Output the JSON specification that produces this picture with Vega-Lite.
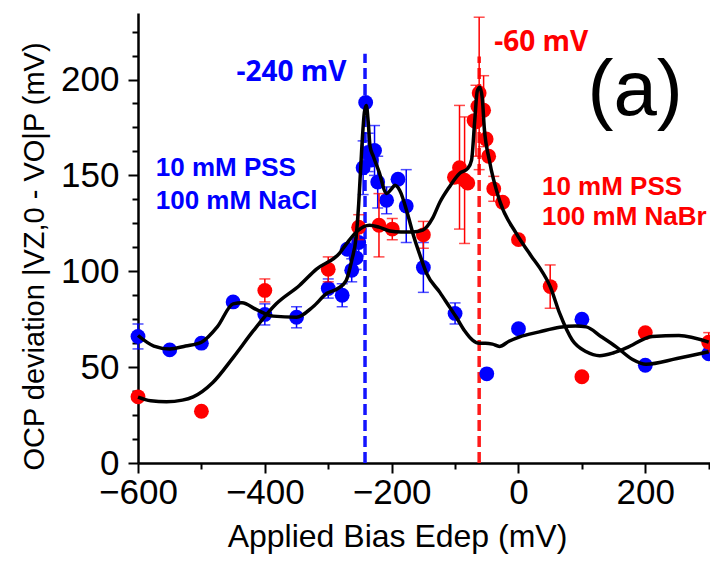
{
  "$schema": "https://vega.github.io/schema/vega-lite/v6.json",
  "autosize": "none",
  "width": 572,
  "height": 450,
  "padding": {"left": 138, "top": 13, "right": 0, "bottom": 104},
  "background": "white",
  "config": {"view": {"stroke": null}},
  "datasets": {
    "blue": [
      {"E": -600, "V": 66, "lo": 59.5, "hi": 72.5},
      {"E": -550, "V": 59},
      {"E": -500, "V": 62.5},
      {"E": -450, "V": 84},
      {"E": -400, "V": 77.5, "lo": 72, "hi": 83},
      {"E": -350, "V": 76, "lo": 70.5, "hi": 81.5},
      {"E": -300, "V": 91, "lo": 86, "hi": 96},
      {"E": -278, "V": 87.5, "lo": 81.5, "hi": 93.5},
      {"E": -270, "V": 111.5},
      {"E": -263, "V": 100.5, "lo": 94.5, "hi": 106.5},
      {"E": -256, "V": 107, "lo": 101, "hi": 113},
      {"E": -252, "V": 115, "lo": 108, "hi": 122},
      {"E": -245, "V": 154, "lo": 140, "hi": 168},
      {"E": -241, "V": 188},
      {"E": -237, "V": 162, "lo": 152, "hi": 172},
      {"E": -232, "V": 158},
      {"E": -227, "V": 163, "lo": 150, "hi": 176},
      {"E": -222, "V": 146.5, "lo": 133, "hi": 160},
      {"E": -208, "V": 137, "lo": 130, "hi": 144},
      {"E": -190, "V": 148},
      {"E": -177, "V": 134, "lo": 115, "hi": 153},
      {"E": -150, "V": 102, "lo": 89, "hi": 115},
      {"E": -100, "V": 78, "lo": 72.5, "hi": 83.5},
      {"E": -50, "V": 46.5},
      {"E": 0, "V": 70},
      {"E": 100, "V": 75},
      {"E": 200, "V": 51},
      {"E": 300, "V": 57}
    ],
    "red": [
      {"E": -600, "V": 34.5},
      {"E": -500, "V": 27},
      {"E": -400, "V": 90, "lo": 84, "hi": 96},
      {"E": -300, "V": 101, "lo": 94.5, "hi": 107.5},
      {"E": -252, "V": 123, "lo": 116.5, "hi": 129.5},
      {"E": -220, "V": 124, "lo": 107.5, "hi": 140.5},
      {"E": -199, "V": 122, "lo": 116.5, "hi": 127.5},
      {"E": -150, "V": 119, "lo": 112, "hi": 126},
      {"E": -101, "V": 149},
      {"E": -93, "V": 154, "lo": 122, "hi": 186.5},
      {"E": -85, "V": 147.5, "lo": 114.5, "hi": 180.5},
      {"E": -80, "V": 146},
      {"E": -70, "V": 178.6},
      {"E": -67, "V": 178, "lo": 160, "hi": 197},
      {"E": -64, "V": 186},
      {"E": -62, "V": 193, "lo": 153, "hi": 232.5},
      {"E": -55, "V": 184, "lo": 165, "hi": 202},
      {"E": -51, "V": 169},
      {"E": -47, "V": 160},
      {"E": -39, "V": 143, "lo": 136.5, "hi": 149.5},
      {"E": -25, "V": 136},
      {"E": 0, "V": 116.5},
      {"E": 50, "V": 92, "lo": 80.7, "hi": 103.3},
      {"E": 100, "V": 45},
      {"E": 200, "V": 68},
      {"E": 300, "V": 63, "lo": 58, "hi": 68}
    ],
    "bluecurve": [
      {"E": -600, "V": 66.5}, {"E": -575, "V": 61}, {"E": -550, "V": 59.5}, {"E": -525, "V": 61},
      {"E": -500, "V": 63}, {"E": -475, "V": 71}, {"E": -450, "V": 83}, {"E": -436, "V": 83.6},
      {"E": -413, "V": 80}, {"E": -387, "V": 76.6}, {"E": -350, "V": 76}, {"E": -324, "V": 81.5},
      {"E": -302, "V": 88.5}, {"E": -285, "V": 91}, {"E": -272, "V": 95}, {"E": -263, "V": 105.7},
      {"E": -256, "V": 118}, {"E": -252, "V": 135}, {"E": -247, "V": 165}, {"E": -243, "V": 183},
      {"E": -240, "V": 186.5}, {"E": -237, "V": 178}, {"E": -234, "V": 165}, {"E": -229, "V": 160},
      {"E": -220, "V": 152}, {"E": -208, "V": 140.6}, {"E": -200, "V": 143}, {"E": -195, "V": 144.8},
      {"E": -187, "V": 142}, {"E": -175, "V": 130}, {"E": -165, "V": 118}, {"E": -156, "V": 109},
      {"E": -145, "V": 99}, {"E": -124, "V": 89}, {"E": -110, "V": 82}, {"E": -98, "V": 76},
      {"E": -85, "V": 69}, {"E": -72, "V": 64}, {"E": -62, "V": 62.5}, {"E": -52, "V": 62.5},
      {"E": -41, "V": 62}, {"E": -30, "V": 60.8}, {"E": -15, "V": 63.5}, {"E": 2, "V": 65.8},
      {"E": 33, "V": 68.4}, {"E": 65, "V": 70.8}, {"E": 90, "V": 71.5}, {"E": 107, "V": 71},
      {"E": 130, "V": 66}, {"E": 154, "V": 60.6}, {"E": 180, "V": 54}, {"E": 201, "V": 51.5},
      {"E": 250, "V": 54.5}, {"E": 300, "V": 58}
    ],
    "redcurve": [
      {"E": -600, "V": 34.4}, {"E": -580, "V": 32.5}, {"E": -555, "V": 32}, {"E": -530, "V": 32.8},
      {"E": -513, "V": 34.5}, {"E": -482, "V": 42}, {"E": -450, "V": 55}, {"E": -418, "V": 69},
      {"E": -382, "V": 83}, {"E": -345, "V": 92.7}, {"E": -319, "V": 101}, {"E": -282, "V": 109.5},
      {"E": -271, "V": 114.4}, {"E": -254, "V": 121}, {"E": -235, "V": 124}, {"E": -220, "V": 123},
      {"E": -203, "V": 121}, {"E": -185, "V": 120.5}, {"E": -167, "V": 120.5}, {"E": -151, "V": 121.5},
      {"E": -135, "V": 128}, {"E": -124, "V": 136}, {"E": -109, "V": 144}, {"E": -93, "V": 151},
      {"E": -80, "V": 153.6}, {"E": -74, "V": 158}, {"E": -69, "V": 178.6}, {"E": -65, "V": 194},
      {"E": -61, "V": 196}, {"E": -57, "V": 190}, {"E": -54, "V": 175}, {"E": -46, "V": 158},
      {"E": -30, "V": 137}, {"E": -4, "V": 120}, {"E": 20, "V": 108}, {"E": 33, "V": 102},
      {"E": 50, "V": 92}, {"E": 65, "V": 78}, {"E": 85, "V": 64}, {"E": 107, "V": 58},
      {"E": 128, "V": 56}, {"E": 150, "V": 57.5}, {"E": 170, "V": 60}, {"E": 211, "V": 66},
      {"E": 253, "V": 66.5}, {"E": 300, "V": 63}
    ],
    "bluevline": [{"E": -242, "V": 0, "V2": 213.5}],
    "redvline": [{"E": -62, "V": 0, "V2": 212}],
    "boldlabels": [
      {"E": -358, "V": 203.5, "t": "-240 mV", "s": "NaCl"},
      {"E": 36, "V": 219, "t": "-60 mV", "s": "NaBr"}
    ],
    "saltlabels": [
      {"E": -572, "V": 154, "t": "10 mM PSS", "s": "NaCl"},
      {"E": -572, "V": 136.5, "t": "100 mM NaCl", "s": "NaCl"},
      {"E": 37, "V": 144, "t": "10 mM PSS", "s": "NaBr"},
      {"E": 37, "V": 128.5, "t": "100 mM NaBr", "s": "NaBr"}
    ],
    "panel": [{"E": 184, "V": 181.6, "t": "(a)"}]
  },
  "encoding": {
    "x": {"field": "E", "type": "quantitative",
      "scale": {"domain": [-600, 302], "nice": false, "zero": false},
      "axis": {
        "title": "Applied Bias Edep (mV)",
        "values": [-600, -500, -400, -300, -200, -100, 0, 100, 200, 300],
        "labelExpr": "datum.value % 200 === 0 ? datum.label : ''",
        "labelFont": "Liberation Sans", "labelFontSize": 35, "labelColor": "black",
        "labelPadding": 2, "labelFlush": false, "labelOverlap": false,
        "tickSize": {"condition": {"test": "datum.value % 200 === 0", "value": 10}, "value": 6},
        "tickColor": "black", "tickWidth": 2, "domainColor": "black", "domainWidth": 2.5,
        "grid": false,
        "titleFont": "Liberation Sans", "titleFontSize": 32, "titleFontWeight": "normal", "titleColor": "black",
        "titleX": 259, "titleY": 83, "titleBaseline": "alphabetic", "titleAlign": "center"
      }
    },
    "y": {"field": "V", "type": "quantitative",
      "scale": {"domain": [0, 234.7], "nice": false, "zero": false},
      "axis": {
        "title": "OCP deviation |VZ,0 - VO|P (mV)",
        "values": [0, 12.5, 25, 37.5, 50, 62.5, 75, 87.5, 100, 112.5, 125, 137.5, 150, 162.5, 175, 187.5, 200, 212.5, 225],
        "labelExpr": "datum.value % 50 === 0 ? datum.label : ''",
        "labelFont": "Liberation Sans", "labelFontSize": 35, "labelColor": "black",
        "labelPadding": 9, "labelFlush": false, "labelOverlap": false, "labelBaseline": "middle",
        "tickSize": {"condition": {"test": "datum.value % 50 === 0", "value": 10}, "value": 6},
        "tickColor": "black", "tickWidth": 2, "domainColor": "black", "domainWidth": 2.5,
        "grid": false,
        "titleFont": "Liberation Sans", "titleFontSize": 29, "titleFontWeight": "normal", "titleColor": "black",
        "titleAngle": -90, "titleX": -104, "titleY": 243, "titleBaseline": "middle", "titleAlign": "center"
      }
    }
  },
  "layer": [
    {"data": {"name": "bluevline"}, "mark": {"type": "rule", "color": "#1414ff", "strokeWidth": 3.5, "strokeDash": [11, 5]},
      "encoding": {"y2": {"field": "V2"}}},
    {"data": {"name": "redvline"}, "mark": {"type": "rule", "color": "#ff1a1a", "strokeWidth": 3.5, "strokeDash": [11, 5]},
      "encoding": {"y2": {"field": "V2"}}},
    {"data": {"name": "blue"}, "transform": [{"filter": "isValid(datum.lo)"}],
      "mark": {"type": "errorbar", "color": "#0000ff", "ticks": {"size": 11}, "thickness": 1.5},
      "encoding": {"y": {"field": "lo", "type": "quantitative"}, "y2": {"field": "hi"}}},
    {"data": {"name": "blue"}, "mark": {"type": "circle", "color": "#0000ff", "opacity": 1, "size": 220}},
    {"data": {"name": "red"}, "transform": [{"filter": "isValid(datum.lo)"}],
      "mark": {"type": "errorbar", "color": "#ff0000", "ticks": {"size": 11}, "thickness": 1.5},
      "encoding": {"y": {"field": "lo", "type": "quantitative"}, "y2": {"field": "hi"}}},
    {"data": {"name": "red"}, "mark": {"type": "circle", "color": "#ff0000", "opacity": 1, "size": 220}},
    {"data": {"name": "bluecurve"}, "mark": {"type": "line", "color": "black", "strokeWidth": 3.5, "interpolate": "monotone"}, "encoding": {}},
    {"data": {"name": "redcurve"}, "mark": {"type": "line", "color": "black", "strokeWidth": 3.5, "interpolate": "monotone"}, "encoding": {}},
    {"data": {"name": "boldlabels"},
      "mark": {"type": "text", "font": "Open Sans", "fontWeight": "bold", "fontSize": 28, "align": "center", "baseline": "middle"},
      "encoding": {"text": {"field": "t"},
        "color": {"field": "s", "type": "nominal", "scale": {"domain": ["NaCl", "NaBr"], "range": ["#0000ff", "#ff0000"]}, "legend": null}}},
    {"data": {"name": "saltlabels"},
      "mark": {"type": "text", "font": "Liberation Sans", "fontWeight": "bold", "fontSize": 26, "align": "left", "baseline": "middle"},
      "encoding": {"text": {"field": "t"},
        "color": {"field": "s", "type": "nominal", "scale": {"domain": ["NaCl", "NaBr"], "range": ["#0000ff", "#ff0000"]}, "legend": null}}},
    {"data": {"name": "panel"},
      "mark": {"type": "text", "font": "Liberation Sans", "fontSize": 78, "align": "center", "baseline": "alphabetic", "color": "black"},
      "encoding": {"text": {"field": "t"}}}
  ]
}
